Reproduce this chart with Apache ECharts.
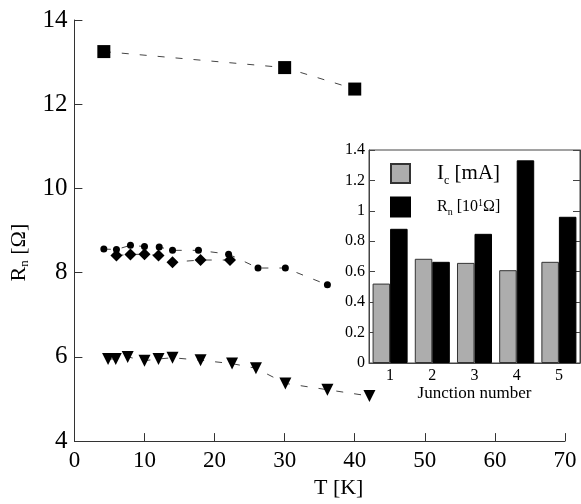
<!DOCTYPE html>
<html>
<head>
<meta charset="utf-8">
<script src="https://cdn.jsdelivr.net/npm/echarts@6/dist/echarts.min.js"></script>
<style>
  html, body { margin: 0; padding: 0; background: #fff; }
  #chart { width: 581px; height: 504px; }
</style>
</head>
<body>
<div id="chart"></div>
<script>
// main panel: Rn vs T, four junction series
const squares = [[4.2, 13.25], [30, 12.87], [40, 12.36]];
const circles = [
  [4.2, 8.56], [6, 8.55], [8, 8.65], [10, 8.62], [12.1, 8.61], [14, 8.53],
  [17.7, 8.53], [22, 8.44], [26.2, 8.11], [30.1, 8.11], [36.1, 7.71]
];
const diamonds = [
  [6, 8.41], [8, 8.43], [10, 8.44], [12, 8.41], [14, 8.25], [18, 8.3], [22.2, 8.3]
];
const triangles = [
  [4.8, 5.95], [5.9, 5.95], [7.6, 6.0], [10, 5.91], [12, 5.95], [14, 5.98],
  [18, 5.92], [22.5, 5.84], [25.9, 5.73], [30.1, 5.37], [36.1, 5.22], [42.1, 5.07]
];

// inset: per junction
const junctions = ["1", "2", "3", "4", "5"];
const icValues = [0.522, 0.685, 0.658, 0.61, 0.665];
const rnValues = [0.882, 0.665, 0.849, 1.332, 0.961];

const serif = "'Liberation Serif', 'Times New Roman', serif";
const dash = { color: "#444", width: 1, type: [7, 11] };

const mainSeries = (data, symbol, size, rotate) => ({
  type: "line",
  xAxisIndex: 0,
  yAxisIndex: 0,
  data: data,
  symbol: symbol,
  symbolSize: size,
  symbolRotate: rotate || 0,
  showSymbol: true,
  smooth: false,
  itemStyle: { color: "#000", borderWidth: 0 },
  lineStyle: dash,
  animation: false,
  z: 3,
});

const chart = echarts.init(document.getElementById("chart"));
const option = {
  animation: false,
  textStyle: { fontFamily: serif, color: "#000" },
  grid: [
    { left: 66, top: 20, right: 16, bottom: 56 },
    {
      left: 369, top: 150, right: 1, bottom: 141,
      show: true, backgroundColor: "#fff", borderColor: "#444", borderWidth: 1, z: 5,
    },
  ],
  legend: {
    orient: "vertical",
    left: 385,
    top: 158,
    itemWidth: 19,
    itemHeight: 19,
    itemGap: 10,
    z: 10,
    data: ["Ic", "Rn"],
    icon: "rect",
    textStyle: {
      fontFamily: serif,
      color: "#000",
      padding: [0, 0, 0, 22],
      rich: {
        big: { fontFamily: serif, fontSize: 21, color: "#000" },
        bsub: { fontFamily: serif, fontSize: 12, color: "#000", padding: [14, 0, 0, 0] },
        sm: { fontFamily: serif, fontSize: 16, color: "#000" },
        ssub: { fontFamily: serif, fontSize: 10, color: "#000", padding: [10, 0, 0, 0] },
        sup: { fontFamily: serif, fontSize: 10, color: "#000", padding: [0, 0, 8, 0] },
      },
    },
    formatter: (name) =>
      name === "Ic"
        ? "{big|I}{bsub|c}{big| [mA]}"
        : "{sm|R}{ssub|n}{sm| [10}{sup|1}{sm|Ω]}",
  },
  xAxis: [
    {
      gridIndex: 0,
      type: "value",
      min: 0,
      max: 70,
      interval: 10,
      name: "T [K]",
      nameLocation: "middle",
      nameGap: 33,
      nameTextStyle: { fontFamily: serif, fontSize: 22, color: "#000", padding: [0, 0, 0, 38] },
      axisLine: { show: true, lineStyle: { color: "#333", width: 1 } },
      axisTick: { show: true, inside: true, length: 8, lineStyle: { color: "#333" } },
      axisLabel: { fontFamily: serif, fontSize: 23, color: "#000", margin: 8 },
      splitLine: { show: false },
    },
    {
      gridIndex: 1,
      type: "category",
      data: junctions,
      name: "Junction number",
      nameLocation: "middle",
      nameGap: 22,
      nameTextStyle: { fontFamily: serif, fontSize: 17, color: "#000" },
      axisLine: { show: true, lineStyle: { color: "#444", width: 1 } },
      axisTick: { show: false },
      axisLabel: { fontFamily: serif, fontSize: 16, color: "#000", margin: 5 },
      z: 6,
    },
  ],
  yAxis: [
    {
      gridIndex: 0,
      type: "value",
      min: 4,
      max: 14,
      interval: 2,
      name: "R{s|n} [Ω]",
      nameLocation: "middle",
      nameRotate: 90,
      nameGap: 28,
      nameTextStyle: {
        fontFamily: serif, fontSize: 22, color: "#000", padding: [0, 44, 0, 0],
        rich: { s: { fontFamily: serif, fontSize: 13, color: "#000", padding: [12, 0, 0, 0] } },
      },
      axisLine: { show: true, lineStyle: { color: "#333", width: 1 } },
      axisTick: { show: true, inside: true, length: 8, lineStyle: { color: "#333" } },
      axisLabel: { fontFamily: serif, fontSize: 25, color: "#000", margin: 7 },
      splitLine: { show: false },
    },
    {
      gridIndex: 1,
      type: "value",
      min: 0,
      max: 1.4,
      interval: 0.2,
      axisLine: { show: true, lineStyle: { color: "#444", width: 1 } },
      axisTick: { show: true, inside: true, length: 6, lineStyle: { color: "#444" } },
      axisLabel: { fontFamily: serif, fontSize: 16, color: "#000", margin: 4 },
      splitLine: { show: false },
      z: 6,
    },
    {
      // mirrored ticks on the inset's right edge
      gridIndex: 1,
      type: "value",
      position: "right",
      min: 0,
      max: 1.4,
      interval: 0.2,
      axisLine: { show: true, lineStyle: { color: "#444", width: 1 } },
      axisTick: { show: true, inside: true, length: 7, lineStyle: { color: "#444" } },
      axisLabel: { show: false },
      splitLine: { show: false },
      z: 6,
    },
  ],
  series: [
    mainSeries(squares, "rect", 13),
    mainSeries(circles, "circle", 7),
    mainSeries(diamonds, "diamond", 12),
    mainSeries(triangles, "triangle", 12, 180),
    {
      name: "Ic",
      type: "bar",
      xAxisIndex: 1,
      yAxisIndex: 1,
      data: icValues,
      barGap: "0%",
      barCategoryGap: "17%",
      itemStyle: { color: "#adadad", borderColor: "#333", borderWidth: 1 },
      z: 7,
    },
    {
      name: "Rn",
      type: "bar",
      xAxisIndex: 1,
      yAxisIndex: 1,
      data: rnValues,
      barGap: "0%",
      barCategoryGap: "17%",
      itemStyle: { color: "#000", borderColor: "#000", borderWidth: 1 },
      z: 7,
    },
  ],
};
chart.setOption(option);
</script>
</body>
</html>
